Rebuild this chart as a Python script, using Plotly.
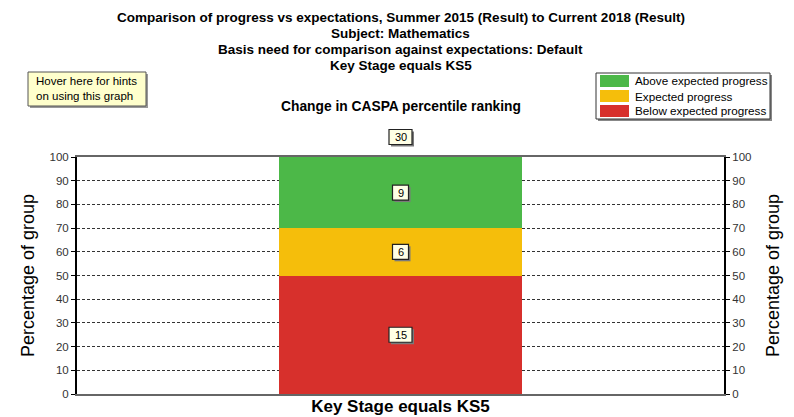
import plotly.graph_objects as go

categories = ["Key Stage equals KS5"]
series_names = ["Below expected progress", "Expected progress", "Above expected progress"]
series_counts = [15, 6, 9]
series_pct = [50, 20, 30]
series_colors = ["#D7302C", "#F5BE0B", "#4CB848"]
total = 30
y_ticks = list(range(0, 101, 10))

fig = go.Figure()
for name, pct, col in zip(series_names, series_pct, series_colors):
    fig.add_trace(go.Bar(x=categories, y=[pct], name=name, marker=dict(color=col, line=dict(width=0)),
                         width=0.376, showlegend=False, hoverinfo="skip"))
fig.add_trace(go.Scatter(x=categories, y=[0], yaxis="y2", mode="markers", marker=dict(opacity=0),
                         showlegend=False, hoverinfo="skip"))

font = "Liberation Sans, Arial, sans-serif"
L, R, T, B = 77, 724, 157, 394
def px_x(p):
    return (p - L) / (R - L)
def px_y(p):
    return (B - p) / (B - T)

ann = []
shapes = []

def label_box(y, text, yref="y", yshift=0):
    w = 7 * len(text) + 9
    h = 15
    base = dict(type="rect", xref="x", yref=yref, xsizemode="pixel", ysizemode="pixel",
                xanchor=0, yanchor=y, layer="above")
    shapes.append(dict(base, x0=-w / 2 + 2, x1=w / 2 + 2, y0=yshift - h / 2 - 2, y1=yshift + h / 2 - 2,
                       fillcolor="#7a7a7a", line=dict(width=0)))
    shapes.append(dict(base, x0=-w / 2, x1=w / 2, y0=yshift - h / 2, y1=yshift + h / 2,
                       fillcolor="#FFFFE6", line=dict(color="#222", width=1.2)))
    ann.append(dict(x=0, y=y, xref="x", yref=yref, yshift=yshift, yanchor="middle", text=text,
                    showarrow=False, font=dict(size=11, color="#000", family=font)))

cum = 0
for cnt, pct in zip(series_counts, series_pct):
    label_box(cum + pct / 2, str(cnt))
    cum += pct
label_box(1, str(total), yref="paper", yshift=20)

titles = ["Comparison of progress vs expectations, Summer 2015 (Result) to Current 2018 (Result)",
          "Subject: Mathematics",
          "Basis need for comparison against expectations: Default",
          "Key Stage equals KS5"]
for i, t in enumerate(titles):
    ann.append(dict(x=px_x(400.5), y=px_y(17 + 16.3 * i), xref="paper", yref="paper", xanchor="center",
                    yanchor="middle", text="<b>" + t + "</b>", showarrow=False,
                    font=dict(size=13.5, color="#000", family=font)))

ann.append(dict(x=px_x(400.5), y=px_y(107), xref="paper", yref="paper", yanchor="middle",
                text="<b>Change in CASPA percentile ranking</b>",
                showarrow=False, font=dict(size=13.8, color="#000", family=font)))

# hint box
shapes.append(dict(type="rect", xref="paper", yref="paper", x0=px_x(30), x1=px_x(148),
                   y0=px_y(74), y1=px_y(108), fillcolor="#999", line=dict(width=0)))
shapes.append(dict(type="rect", xref="paper", yref="paper", x0=px_x(28), x1=px_x(146),
                   y0=px_y(72), y1=px_y(106), fillcolor="#FFFFCC", line=dict(color="#555", width=1)))
ann.append(dict(x=px_x(34), y=px_y(89), xref="paper", yref="paper", xanchor="left", yanchor="middle",
                text="Hover here for hints<br>on using this graph", align="left", showarrow=False,
                font=dict(size=11.5, color="#000", family=font)))

# legend box
lx0, ly0, lx1, ly1 = 596, 73, 770, 119
shapes.append(dict(type="rect", xref="paper", yref="paper", x0=px_x(lx0 + 2), x1=px_x(lx1 + 2),
                   y0=px_y(ly0 + 2), y1=px_y(ly1 + 2), fillcolor="#888", line=dict(width=0)))
shapes.append(dict(type="rect", xref="paper", yref="paper", x0=px_x(lx0), x1=px_x(lx1),
                   y0=px_y(ly0), y1=px_y(ly1), fillcolor="#FFFFFF", line=dict(color="#333", width=1)))
legend_order = list(reversed(range(len(series_names))))
for j, idx in enumerate(legend_order):
    yc = 81 + 15 * j
    shapes.append(dict(type="rect", xref="paper", yref="paper", x0=px_x(600), x1=px_x(629),
                       y0=px_y(yc + 6), y1=px_y(yc - 6), fillcolor=series_colors[idx], line=dict(width=0)))
    ann.append(dict(x=px_x(633), y=px_y(yc), xref="paper", yref="paper", xanchor="left", yanchor="middle",
                    text=series_names[idx], showarrow=False, font=dict(size=11.7, color="#000", family=font)))

fig.update_layout(
    width=794, height=417,
    margin=dict(l=L, r=794 - R, t=T, b=417 - B, autoexpand=False),
    paper_bgcolor="white", plot_bgcolor="white",
    barmode="stack", bargap=0,
    annotations=ann, shapes=shapes,
    xaxis=dict(range=[-0.5, 0.5], showline=True, mirror=True, linecolor="#666", linewidth=2,
               showgrid=False, ticks="", showticklabels=False,
               title=dict(text="<b>Key Stage equals KS5</b>", standoff=5,
                          font=dict(size=17, color="#000", family=font))),
    yaxis=dict(range=[0, 100], tickvals=y_ticks, showline=True, linecolor="#000", linewidth=2,
               ticks="outside", ticklen=4, tickcolor="#000",
               tickfont=dict(size=11.5, color="#333", family=font),
               showgrid=True, gridcolor="#333", gridwidth=1, griddash="3px,2px", zeroline=False,
               title=dict(text="Percentage of group", standoff=10, font=dict(size=18, color="#000", family=font))),
    yaxis2=dict(range=[0, 100], tickvals=y_ticks, overlaying="y", side="right", showline=True,
                linecolor="#000", linewidth=2, ticks="outside", ticklen=4, tickcolor="#000",
                tickfont=dict(size=11.5, color="#333", family=font), showgrid=False, zeroline=False,
                title=dict(text="Percentage of group", standoff=16, font=dict(size=18, color="#000", family=font))),
)
fig.write_html("out.html", config={"displayModeBar": False},
               post_script="document.body.style.margin='0';")
